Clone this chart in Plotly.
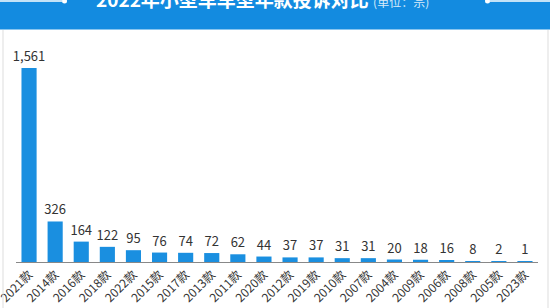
import plotly.graph_objects as go

categories = ["2021款", "2014款", "2016款", "2018款", "2022款", "2015款", "2017款", "2013款",
              "2011款", "2020款", "2012款", "2019款", "2010款", "2007款", "2004款", "2009款",
              "2006款", "2008款", "2005款", "2023款"]
values = [1561, 326, 164, 122, 95, 76, 74, 72, 62, 44, 37, 37, 31, 31, 20, 18, 16, 8, 2, 1]

W, H = 550, 308
ML, MR, MT, MB = 16, 12, 40, 46
PW, PH = W - ML - MR, H - MT - MB

def px(x):
    return (x - ML) / PW

def py(y):
    return 1 - (y - MT) / PH

FONT = "Noto Sans CJK SC"
BLUE = "#1a8fe0"

fig = go.Figure(go.Bar(
    x=categories, y=values,
    marker=dict(color=BLUE, line=dict(width=0)),
    width=0.58,
    texttemplate="%{y:,}", textposition="outside", cliponaxis=False,
    textfont=dict(family=FONT, size=13, color="#333333"),
))

shapes = [
    # banner
    dict(type="rect", xref="paper", yref="paper", x0=px(0), x1=px(W), y0=py(0), y1=py(29.5),
         fillcolor="#138be0", line=dict(width=0), layer="below"),
    # side borders
    dict(type="line", xref="paper", yref="paper", x0=px(3), x1=px(3), y0=py(30), y1=py(H),
         line=dict(color="#dddddd", width=1)),
    dict(type="line", xref="paper", yref="paper", x0=px(548), x1=px(548), y0=py(30), y1=py(H),
         line=dict(color="#dddddd", width=1)),
    # decorative top lines
    dict(type="line", xref="paper", yref="paper", x0=px(0), x1=px(62), y0=py(1), y1=py(1),
         line=dict(color="white", width=1.5)),
    dict(type="circle", xref="paper", yref="paper", x0=px(62), x1=px(67), y0=py(-1.5), y1=py(3.5),
         fillcolor="white", line=dict(width=0)),
    dict(type="line", xref="paper", yref="paper", x0=px(490), x1=px(W), y0=py(1), y1=py(1),
         line=dict(color="white", width=1.5)),
    dict(type="circle", xref="paper", yref="paper", x0=px(485), x1=px(490), y0=py(-1.5), y1=py(3.5),
         fillcolor="white", line=dict(width=0)),
]

annotations = [
    dict(xref="paper", yref="paper", x=px(262), y=py(14), xanchor="center", yanchor="bottom",
         text="<b>2022年小型车车型年款投诉对比</b> <span style='font-size:12px;color:#d8ecfa'>(单位：宗)</span>",
         showarrow=False, font=dict(family=FONT, size=19, color="white")),
]

fig.update_layout(
    width=W, height=H,
    margin=dict(l=ML, r=MR, t=MT, b=MB, autoexpand=False),
    paper_bgcolor="white", plot_bgcolor="white",
    showlegend=False,
    shapes=shapes, annotations=annotations,
    uniformtext=dict(minsize=13, mode="show"),
    xaxis=dict(
        tickangle=-45, tickfont=dict(family=FONT, size=12, color="#333333"),
        showline=True, linecolor="#888888", linewidth=1,
        ticks="", showgrid=False, zeroline=False, automargin=False,
        range=[-0.5, len(categories) - 0.5],
    ),
    yaxis=dict(visible=False, range=[0, 1786], showgrid=False, zeroline=False, automargin=False),
)

fig.write_html("out.html")
